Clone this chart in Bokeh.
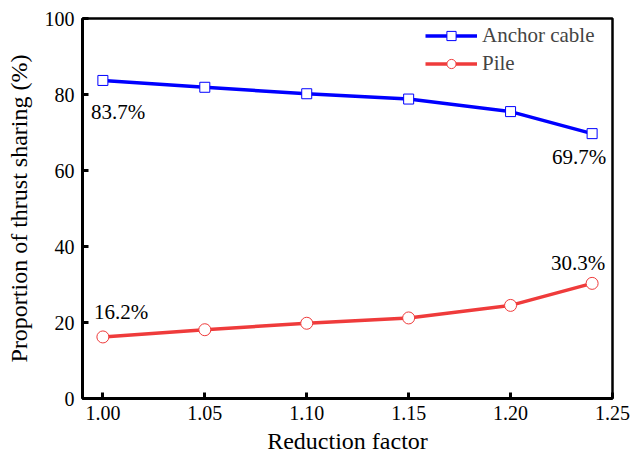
from bokeh.plotting import figure
from bokeh.models import Range1d, FixedTicker, Legend, LegendItem, ColumnDataSource
from bokeh.embed import file_html
from bokeh.resources import INLINE

# data
reduction_factor = [1.00, 1.05, 1.10, 1.15, 1.20, 1.24]
anchor_cable = [83.7, 81.9, 80.2, 78.8, 75.5, 69.7]
pile = [16.2, 18.1, 19.8, 21.2, 24.5, 30.3]
x_ticks = [1.00, 1.05, 1.10, 1.15, 1.20, 1.25]
y_ticks = [0, 20, 40, 60, 80, 100]

FONT = "Liberation Serif"
BLUE = "#0000FF"
RED = "#EF3B3B"
FS = "21px"
TICK_FS = "20px"
LABEL_FS = "24px"

p = figure(width=630, height=456, output_backend="svg", toolbar_location=None,
           x_range=Range1d(0.99, 1.25), y_range=Range1d(0, 100),
           min_border_left=82, min_border_right=18, min_border_top=18, min_border_bottom=58)
p.grid.visible = False
p.outline_line_color = "black"
p.outline_line_width = 2.5
p.background_fill_color = "white"
p.border_fill_color = "white"

for ax in (p.xaxis[0], p.yaxis[0]):
    ax.axis_line_width = 3
    ax.axis_line_color = "black"
    ax.major_tick_in = 6
    ax.major_tick_out = 0
    ax.major_tick_line_width = 3
    ax.minor_tick_line_color = None
    ax.major_label_text_font = FONT
    ax.major_label_text_font_size = TICK_FS
    ax.major_label_text_color = "black"
    ax.axis_label_text_font = FONT
    ax.axis_label_text_font_size = LABEL_FS
    ax.axis_label_text_font_style = "normal"
    ax.axis_label_text_color = "black"

p.xaxis.ticker = FixedTicker(ticks=x_ticks)
p.xaxis.major_label_overrides = {t: f"{t:.2f}" for t in x_ticks}
p.yaxis.ticker = FixedTicker(ticks=y_ticks)
p.xaxis.axis_label = "Reduction factor"
p.yaxis.axis_label = "Proportion of thrust sharing (%)"
p.xaxis.major_label_standoff = 7
p.xaxis.axis_label_standoff = 5
p.yaxis.major_label_standoff = 8
p.yaxis.axis_label_standoff = 10

src = ColumnDataSource(dict(x=reduction_factor, a=anchor_cable, p=pile))

la = p.line("x", "a", source=src, line_color=BLUE, line_width=3.5)
sa = p.scatter("x", "a", source=src, marker="square", size=10, fill_color="white",
               line_color=BLUE, line_width=1)
lp = p.line("x", "p", source=src, line_color=RED, line_width=3.5)
sp = p.scatter("x", "p", source=src, marker="circle", size=12, fill_color="white",
               line_color=RED, line_width=1)

# value labels
def lab(x, y, txt, dx, dy, align):
    p.text(x=[x], y=[y], text=[txt], x_offset=dx, y_offset=dy, text_align=align,
           text_baseline="middle", text_font_size=FS, text_color="black",
           text_font={"value": FONT})

lab(reduction_factor[0], anchor_cable[0], f"{anchor_cable[0]:.1f}%", -12, 32, "left")
lab(reduction_factor[-1], anchor_cable[-1], f"{anchor_cable[-1]:.1f}%", -13, 23, "center")
lab(reduction_factor[0], pile[0], f"{pile[0]:.1f}%", -9, -25, "left")
lab(reduction_factor[-1], pile[-1], f"{pile[-1]:.1f}%", -14, -20, "center")

legend = Legend(items=[LegendItem(label="Anchor cable", renderers=[la, sa]),
                       LegendItem(label="Pile", renderers=[lp, sp])],
                location=(343, 322), border_line_color=None, background_fill_alpha=0,
                label_text_font=FONT, label_text_font_size=FS,
                glyph_width=52, glyph_height=23, label_height=23, spacing=3,
                padding=6, margin=0, label_standoff=5)
p.add_layout(legend)

open("out.html", "w").write(file_html(p, INLINE))
